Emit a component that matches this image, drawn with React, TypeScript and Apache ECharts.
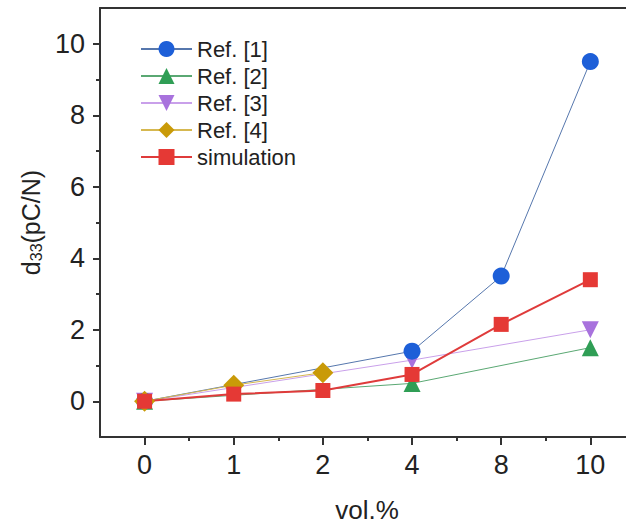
import React, { useEffect, useRef } from "react";
import * as echarts from "echarts";

const categories = ["0", "1", "2", "4", "8", "10"];
const ref1 = [0, null, null, 1.4, 3.5, 9.5];
const ref2 = [0, null, null, 0.5, null, 1.5];
const ref3 = [0, null, null, 1.15, null, 2.0];
const ref4 = [0, 0.45, 0.8, null, null, null];
const simulation = [0, 0.2, 0.3, 0.75, 2.15, 3.4];
const yTicks = [0, 2, 4, 6, 8, 10];
const yMinorTicks = [1, 3, 5, 7, 9];
const xTicks = [0, 1, 2, 3, 4, 5];
const xMinorTicks = [0.5, 1.5, 2.5, 3.5, 4.5];

const FONT = "Liberation Sans, Arial, sans-serif";
const AX = "#333333";

function toPairs(arr: (number | null)[]) {
  const out: number[][] = [];
  arr.forEach((v, i) => {
    if (v !== null && v !== undefined) out.push([i, v]);
  });
  return out;
}

export default function App() {
  const ref = useRef<HTMLDivElement>(null);
  useEffect(() => {
    if (!ref.current) return;
    const chart = echarts.init(ref.current, undefined, { renderer: "svg" });
    const mk = (name: string, data: (number | null)[], symbol: string, size: number, color: string, lineColor: string, width: number, rotate = 0) => ({
      name,
      type: "line",
      data: toPairs(data),
      symbol,
      symbolSize: size,
      symbolRotate: rotate,
      showSymbol: true,
      itemStyle: { color, opacity: 1 },
      lineStyle: { color: lineColor, width },
      xAxisIndex: 0,
      yAxisIndex: 0,
    });
    chart.setOption({
      animation: false,
      backgroundColor: "#ffffff",
      grid: { left: 100, top: 8, right: 0, bottom: 88, containLabel: false, outerBoundsMode: "none" },
      legend: {
        data: ["Ref. [1]", "Ref. [2]", "Ref. [3]", "Ref. [4]", "simulation"],
        orient: "vertical",
        left: 140,
        top: 38,
        padding: 0,
        itemWidth: 51,
        itemHeight: 20,
        itemGap: 5,
        textStyle: { fontSize: 22, color: "#222", fontFamily: FONT },
      },
      xAxis: [
        {
          type: "value",
          position: "bottom",
          min: -0.5,
          max: 5.4,
          splitLine: { show: false },
          axisLine: { show: true, onZero: false, lineStyle: { color: AX, width: 2 } },
          axisTick: { show: true, inside: false, length: 8, lineStyle: { color: AX, width: 2 }, customValues: xTicks },
          axisLabel: {
            customValues: xTicks,
            formatter: (v: number) => categories[Math.round(v)] ?? "",
            fontSize: 27,
            color: "#222",
            fontFamily: FONT,
            margin: 14,
          },
          name: "vol.%",
          nameLocation: "middle",
          nameGap: 61,
          nameTextStyle: { fontSize: 26, lineHeight: 24, color: "#222", fontFamily: FONT, padding: [0, 0, 0, 8] },
        },
        {
          type: "value",
          position: "bottom",
          min: -0.5,
          max: 5.4,
          splitLine: { show: false },
          axisLine: { show: false, onZero: false },
          axisTick: { show: true, length: 4, lineStyle: { color: AX, width: 2 }, customValues: xMinorTicks },
          axisLabel: { show: false },
        },
        {
          type: "value",
          position: "top",
          min: -0.5,
          max: 5.4,
          splitLine: { show: false },
          axisLine: { show: true, onZero: false, lineStyle: { color: AX, width: 2 } },
          axisTick: { show: false },
          axisLabel: { show: false },
        },
      ],
      yAxis: [
        {
          type: "value",
          position: "left",
          min: -1,
          max: 11,
          splitLine: { show: false },
          axisLine: { show: true, onZero: false, lineStyle: { color: AX, width: 2 } },
          axisTick: { show: true, length: 7, lineStyle: { color: AX, width: 2 }, customValues: yTicks },
          axisLabel: { customValues: yTicks, fontSize: 27, color: "#222", fontFamily: FONT, margin: 15 },
          name: "{a|d}{b|33}{a|(pC/N)}",
          nameLocation: "middle",
          nameRotate: 90,
          nameGap: 52,
          nameTextStyle: {
            rich: {
              a: { fontSize: 25, color: "#222", fontFamily: FONT },
              b: { fontSize: 16, color: "#222", fontFamily: FONT, verticalAlign: "bottom", padding: [10, 0, 0, 0] },
            },
          },
        },
        {
          type: "value",
          position: "left",
          min: -1,
          max: 11,
          splitLine: { show: false },
          axisLine: { show: false, onZero: false },
          axisTick: { show: true, length: 4, lineStyle: { color: AX, width: 2 }, customValues: yMinorTicks },
          axisLabel: { show: false },
        },
      ],
      series: [
        mk("Ref. [2]", ref2, "triangle", 17, "#2f9e55", "#5aa873", 1),
        mk("Ref. [3]", ref3, "triangle", 17, "#a872dd", "#c9a0ea", 1, 180),
        mk("Ref. [1]", ref1, "circle", 17, "#1d5fd8", "#5677ad", 1),
        mk("Ref. [4]", ref4, "diamond", 21, "#c99a08", "#d6b850", 1),
        mk("simulation", simulation, "rect", 15, "#e53935", "#df3b3b", 2),
      ],
    });
    return () => chart.dispose();
  }, []);
  return <div ref={ref} style={{ position: "fixed", left: 0, top: 0, width: 626, height: 525 }} />;
}
